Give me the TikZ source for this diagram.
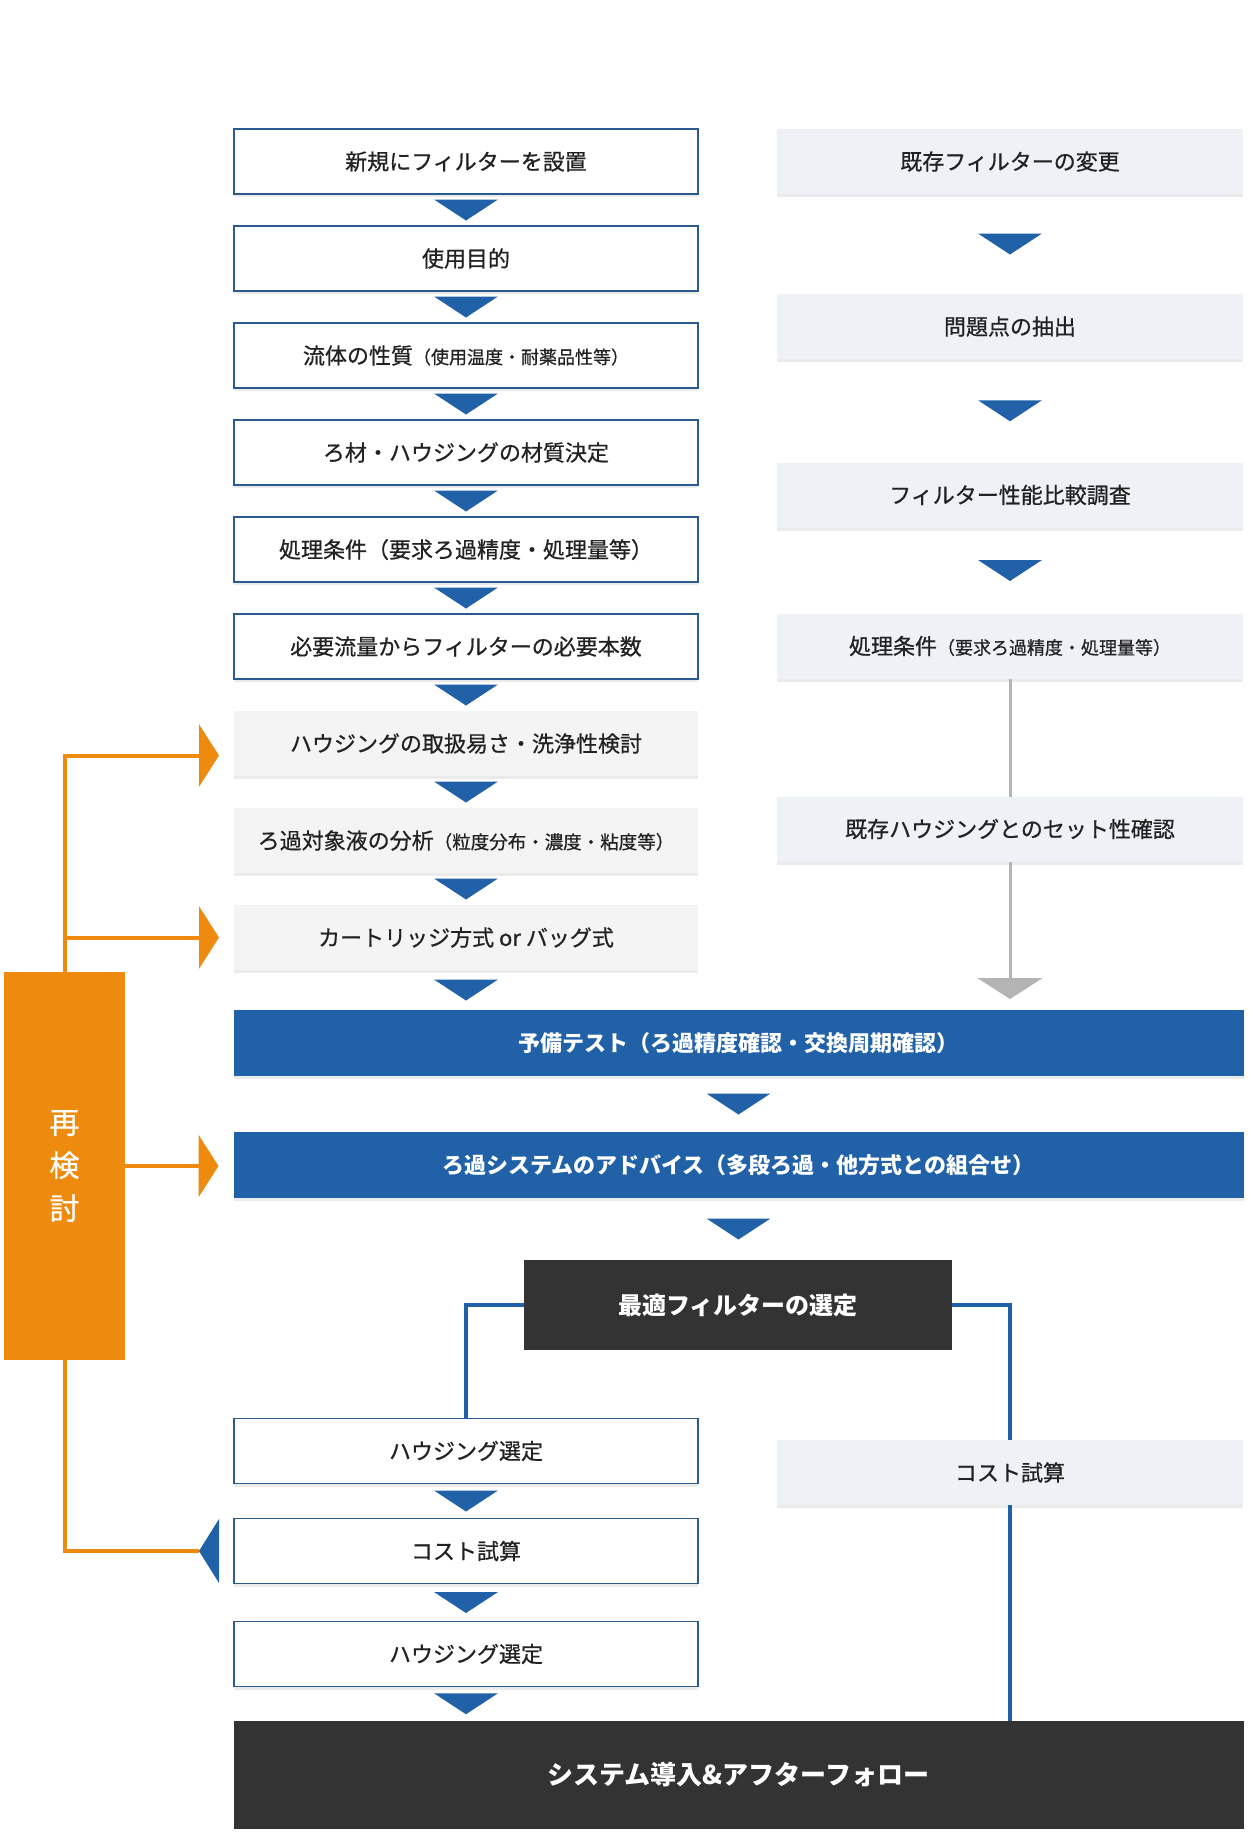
\documentclass[tikz,border=0pt]{standalone}
\usepackage{fontspec}
\setmainfont{Noto Sans CJK JP}
\newfontfamily\medfont{Noto Sans CJK JP}[FakeBold=0.7]
\usetikzlibrary{positioning,calc,arrows.meta,shadows}
\definecolor{navy}{HTML}{2161A8}
\definecolor{edge}{HTML}{2B5A90}
\definecolor{pale}{HTML}{F4F4F4}
\definecolor{mist}{HTML}{EEF2F6}
\definecolor{coal}{HTML}{333333}
\definecolor{amber}{HTML}{EE8A0E}
\definecolor{silver}{HTML}{B4B4B4}
\definecolor{ink}{HTML}{222222}
\newcommand\fsz[1]{\fontsize{#1pt}{#1pt}\selectfont}
\tikzset{
  basebox/.style={minimum height=65pt, inner sep=0pt, outer sep=0pt, font=\medfont\fsz{22}, text=ink},
  softshadow/.style={drop shadow={shadow xshift=0pt, shadow yshift=-3pt, fill=black, opacity=.08}},
  newbox/.style={basebox, softshadow, draw=edge, line width=1.4pt, fill=white, minimum width=464pt},
  checkbox/.style={basebox, softshadow, fill=pale, minimum width=464pt},
  oldbox/.style={basebox, softshadow, fill=mist, minimum width=466pt},
  bluebox/.style={basebox, softshadow, fill=navy, text=white, font=\fsz{22}\bfseries, minimum width=1010pt, minimum height=66pt},
  darkbox/.style={basebox, fill=coal, text=white, font=\fsz{24}\bfseries},
  downtri/.style={fill=navy},
  bluelink/.style={draw=navy, line width=3.5pt},
  graylink/.style={draw=silver, line width=3pt},
  redo/.style={draw=amber, line width=4pt, -{Triangle[width=62pt,length=20pt]}, shorten >=15pt},
}
\begin{document}
\begin{tikzpicture}[x=1pt, y=-1pt]
\useasboundingbox (0,0) rectangle (1248,1836);

% new filter
\node[newbox] (h1) at (466,161.5) {新規にフィルターを設置};
\node[newbox, below=32pt of h1] (h2) {使用目的};
\node[newbox, below=32pt of h2] (h3) {流体の性質{\fsz{18}（使用温度・耐薬品性等）}};
\node[newbox, below=32pt of h3] (h4) {ろ材・ハウジングの材質決定};
\node[newbox, below=32pt of h4] (h5) {処理条件（要求ろ過精度・処理量等）};
\node[newbox, below=32pt of h5] (h6) {必要流量からフィルターの必要本数};
\node[checkbox, below=32pt of h6] (h7) {ハウジングの取扱易さ・洗浄性検討};
\node[checkbox, below=32pt of h7] (h8) {ろ過対象液の分析{\fsz{18.5}（粒度分布・濃度・粘度等）}};
\node[checkbox, below=32pt of h8] (h9) {カートリッジ方式 or バッグ式};

% existing filter
\node[oldbox] (r1) at (1010,161.5) {既存フィルターの変更};
\node[oldbox] (r2) at (1010,326.5) {問題点の抽出};
\node[oldbox] (r3) at (1010,495) {フィルター性能比較調査};
\node[oldbox] (r4) at (1010,646) {処理条件{\fsz{18}（要求ろ過精度・処理量等）}};
\node[oldbox] (r5) at (1010,829) {既存ハウジングとのセット性確認};

% common part
\node[bluebox] (b1) at (738.5,1043) {予備テスト（ろ過精度確認・交換周期確認）};
\node[bluebox] (b2) at (738.5,1165) {ろ過システムのアドバイス（多段ろ過・他方式との組合せ）};
\node[darkbox, minimum width=428pt, minimum height=90pt] (sel) at (738,1305) {最適フィルターの選定};
\node[newbox] (h10) at (466,1451) {ハウジング選定};
\node[newbox] (h11) at (466,1551) {コスト試算};
\node[newbox] (h12) at (466,1654) {ハウジング選定};
\node[oldbox] (r6) at (1010,1472.5) {コスト試算};
\node[darkbox, minimum width=1010pt, minimum height=108pt, font=\fsz{26}\bfseries] (fin) at (738.5,1775) {システム導入\&アフターフォロー};

\node[fill=amber, text=white, minimum width=121pt, minimum height=388pt, inner sep=0pt,
  align=center, font=\medfont\fontsize{30pt}{43pt}\selectfont] (rk) at (64.5,1166) {再\\検\\討};

% step triangles
\foreach \a/\b in {h1/h2,h2/h3,h3/h4,h4/h5,h5/h6,h6/h7,h7/h8,h8/h9,h9/b1,b1/b2,b2/sel,
                   h10/h11,h11/h12,h12/fin,r1/r2,r2/r3,r3/r4}
  \fill[downtri] ($(\a.south)!.5!(\a.south |- \b.north)$) ++(-32,-10.5) -- ++(64,0) -- ++(-32,21) -- cycle;

\draw[graylink] (r4.south) -- (r5.north);
\draw[graylink, -{Triangle[width=65pt,length=21pt]}, shorten >=11pt] (r5.south) -- (r5.south |- b1.north);

\draw[bluelink] (sel.west) -| (h10.north);
\draw[bluelink] (sel.east) -| (r6.north);
\draw[bluelink] (r6.south) -- (r6.south |- fin.north);

% back to review
\draw[redo] (rk.north) |- ([yshift=-12pt]h7.west);
\draw[redo] (rk.north) |- (h9.west);
\draw[redo] (rk.east) -- (rk.east -| b2.west);
\draw[draw=amber, line width=4pt] (rk.south) |- ([xshift=-35pt]h11.west);
\fill[downtri] ([xshift=-35pt]h11.west) -- ++(20,-32) -- ++(0,64) -- cycle;
\end{tikzpicture}
\end{document}
